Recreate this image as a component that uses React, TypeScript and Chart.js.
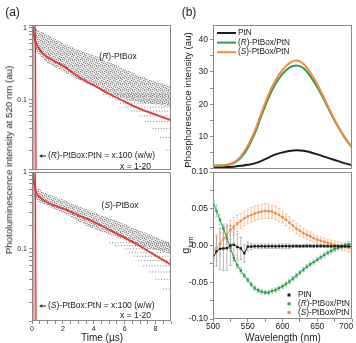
import React, { useEffect, useRef } from 'react';
import { Chart, registerables } from 'chart.js';

Chart.register(...registerables);

const FONT = '"Liberation Sans", Arial, Helvetica, sans-serif';
const INK = '#222';
const AXIS = '#8a8a8a';

// ---------- (a) photoluminescence decay at 520 nm ----------
const decayTime = [0.05, 0.1, 0.2, 0.3, 0.5, 0.75, 1, 1.5, 2, 3, 4, 5, 6, 7, 8, 9];
const fitR = [1.0, 0.85, 0.68, 0.59, 0.5, 0.43, 0.395, 0.34, 0.3, 0.21, 0.16, 0.121, 0.095, 0.075, 0.0625, 0.052];
const fitS = [1.0, 0.8, 0.6, 0.53, 0.47, 0.43, 0.4, 0.365, 0.335, 0.273, 0.225, 0.177, 0.14, 0.108, 0.082, 0.062];

// excitation pulse (instrument response)
const irfTime = [0.0, 0.04, 0.08, 0.18, 0.22, 0.27];
const irfValue = [0.005, 0.9, 1.2, 1.2, 0.9, 0.005];

// spread of the x = 1-20 decay traces
const cloudTimeR = [0.05, 0.3, 1.0, 2.0, 3.0, 4.2, 5.2, 6.3, 7.4, 8.4, 9.0];
const cloudUpperR = [1.05, 0.97, 0.8, 0.62, 0.5, 0.4, 0.32, 0.25, 0.2, 0.17, 0.15];
const cloudLowerR = [0.9, 0.47, 0.33, 0.25, 0.19, 0.15, 0.12, 0.1, 0.09, 0.085, 0.08];
const cloudTimeS = [0.1, 0.3, 1.0, 2.24, 3.3, 4.39, 5.5, 6.5, 7.6, 8.7, 9.0];
const cloudUpperS = [0.68, 0.64, 0.52, 0.42, 0.34, 0.28, 0.23, 0.19, 0.155, 0.125, 0.12];
const cloudLowerS = [0.5, 0.43, 0.36, 0.28, 0.21, 0.17, 0.14, 0.12, 0.1, 0.09, 0.085];

// photon-count levels seen at long delay
const levelsR = [0.12, 0.11, 0.1, 0.09, 0.08, 0.07, 0.06, 0.05, 0.04, 0.03, 0.02];
const levelStartR = [4.6, 5.0, 5.4, 5.7, 6.0, 6.4, 6.9, 7.3, 7.8, 8.3, 8.7];
const levelsS = [0.12, 0.11, 0.1, 0.09, 0.08, 0.07, 0.06, 0.05, 0.04, 0.03];
const levelStartS = [5.0, 5.4, 6.0, 6.3, 6.6, 6.9, 7.2, 7.6, 8.0, 8.5];

// ---------- (b) phosphorescence spectra ----------
const specNm = [500, 510, 520, 530, 540, 550, 560, 570, 580, 590, 600, 610, 620, 630, 640, 650, 660, 670, 680, 690, 700];
const specPtN = [0.45, 0.5, 0.55, 0.7, 0.95, 1.25, 1.7, 2.5, 3.5, 4.5, 5.1, 5.55, 5.75, 5.6, 5.15, 4.5, 3.8, 3.1, 2.4, 1.7, 1.15];
const specR = [1.0, 1.05, 1.2, 1.8, 3.4, 6.5, 10.9, 16.6, 22.0, 26.3, 29.4, 31.3, 32.0, 31.2, 28.7, 25.3, 21.3, 17.0, 13.0, 9.5, 6.6];
const specS = [1.0, 1.05, 1.3, 2.0, 3.9, 7.2, 11.7, 17.5, 23.0, 27.4, 30.6, 32.7, 33.5, 32.5, 29.8, 26.2, 21.9, 17.3, 13.2, 9.6, 6.8];

// ---------- (b) g_lum ----------
const gNm = [500, 505, 510, 515, 520, 525, 530, 535, 540, 545, 550, 555, 560, 565, 570, 575, 580, 585, 590, 595, 600,
  605, 610, 615, 620, 625, 630, 635, 640, 645, 650, 655, 660, 665, 670, 675, 680, 685, 690, 695, 700];
const gPtN = [-0.017, -0.008, -0.0045, -0.004, -0.0035, 0.0, 0.001, -0.002, -0.004, -0.0105, -0.0015, -0.0015, -0.001, -0.0012, -0.001, -0.0012, -0.001, -0.001, -0.0012, -0.001, -0.001,
  -0.0008, -0.001, -0.0009, -0.0008, -0.001, -0.0008, -0.0007, -0.0008, -0.0009, -0.0008, -0.0007, -0.0008, -0.0009, -0.001, -0.0009, -0.001, -0.0011, -0.0012, -0.0012, -0.0013];
const gPtNErr = [0.012, 0.02, 0.028, 0.03, 0.03, 0.027, 0.022, 0.018, 0.015, 0.012, 0.006, 0.004, 0.003, 0.003, 0.003, 0.003, 0.003, 0.003, 0.003, 0.003, 0.003,
  0.003, 0.003, 0.002, 0.002, 0.002, 0.002, 0.002, 0.002, 0.002, 0.002, 0.002, 0.002, 0.002, 0.002, 0.002, 0.002, 0.002, 0.002, 0.002, 0.002];
const gR = [0.06, 0.047, 0.035, 0.023, 0.01, -0.003, -0.017, -0.027, -0.034, -0.041, -0.047, -0.053, -0.058, -0.061, -0.063, -0.064, -0.064, -0.062, -0.0605, -0.058, -0.0555,
  -0.0525, -0.049, -0.045, -0.041, -0.037, -0.033, -0.029, -0.0255, -0.0225, -0.0195, -0.016, -0.013, -0.01, -0.0075, -0.005, -0.003, -0.0015, 0.0005, 0.0015, 0.0025];
const gRErr = [0.01, 0.008, 0.007, 0.006, 0.005, 0.005, 0.004, 0.004, 0.004, 0.003, 0.003, 0.003, 0.003, 0.003, 0.003, 0.003, 0.003, 0.003, 0.003, 0.003, 0.003,
  0.003, 0.003, 0.003, 0.003, 0.003, 0.003, 0.003, 0.003, 0.003, 0.003, 0.003, 0.003, 0.003, 0.003, 0.003, 0.003, 0.003, 0.003, 0.004, 0.004];
const gS = [-0.008, -0.003, 0.002, 0.009, 0.015, 0.021, 0.026, 0.03, 0.0335, 0.037, 0.0395, 0.0415, 0.0435, 0.045, 0.0462, 0.047, 0.0468, 0.046, 0.044, 0.0415, 0.0385,
  0.035, 0.031, 0.027, 0.023, 0.02, 0.017, 0.0145, 0.0125, 0.01, 0.008, 0.0065, 0.005, 0.0035, 0.0023, 0.001, 0.0, -0.0012, -0.002, -0.003, -0.004];
const gSErr = [0.02, 0.018, 0.016, 0.015, 0.014, 0.013, 0.012, 0.011, 0.01, 0.01, 0.01, 0.01, 0.01, 0.01, 0.01, 0.01, 0.01, 0.009, 0.009, 0.009, 0.008,
  0.008, 0.008, 0.007, 0.007, 0.007, 0.006, 0.006, 0.006, 0.005, 0.005, 0.005, 0.005, 0.005, 0.005, 0.005, 0.005, 0.005, 0.005, 0.006, 0.006];

const wavelengthLabels = [500, 550, 600, 650, 700];

const GREEN = '#2f9a4f';
const ORANGE = '#f28a3f';
const BLACK = '#1c1c1c';
const RED = '#e23a36';

type Part = [string, boolean];

function drawRich(ctx: CanvasRenderingContext2D, x: number, y: number, parts: Part[], size: number, align: 'left' | 'center' | 'right') {
  const fontOf = (it: boolean) => `${it ? 'italic ' : ''}${size}px ${FONT}`;
  let total = 0;
  for (const [t, it] of parts) { ctx.font = fontOf(it); total += ctx.measureText(t).width; }
  let cx = align === 'center' ? x - total / 2 : align === 'right' ? x - total : x;
  ctx.textAlign = 'left';
  ctx.textBaseline = 'middle';
  for (const [t, it] of parts) {
    ctx.font = fontOf(it);
    ctx.fillText(t, cx, y);
    cx += ctx.measureText(t).width;
  }
}

function drawArrow(ctx: CanvasRenderingContext2D, x1: number, x2: number, y: number) {
  ctx.strokeStyle = INK;
  ctx.fillStyle = INK;
  ctx.lineWidth = 1;
  ctx.beginPath();
  ctx.moveTo(x1 + 2, y);
  ctx.lineTo(x2, y);
  ctx.stroke();
  ctx.beginPath();
  ctx.moveTo(x1, y);
  ctx.lineTo(x1 + 3.2, y - 1.8);
  ctx.lineTo(x1 + 3.2, y + 1.8);
  ctx.closePath();
  ctx.fill();
}

const framePlugin = {
  id: 'frame',
  afterDatasetsDraw(chart: any) {
    const { ctx, chartArea: a } = chart;
    ctx.save();
    ctx.strokeStyle = AXIS;
    ctx.lineWidth = 1;
    const l = Math.round(a.left) + 0.5, t = Math.round(a.top) + 0.5;
    const r = Math.round(a.right) - 0.5, b = Math.round(a.bottom) - 0.5;
    ctx.strokeRect(l, t, r - l, b - t);
    ctx.restore();
  },
};

// speckled fill used for the band of overlapping decay traces
function speckle(ctx: CanvasRenderingContext2D) {
  const tile = document.createElement('canvas');
  tile.width = 6;
  tile.height = 6;
  const p = tile.getContext('2d')!;
  p.fillStyle = 'rgba(210,210,210,0.45)';
  p.fillRect(0, 0, 6, 6);
  p.fillStyle = 'rgba(120,120,120,0.8)';
  [[0, 0], [4, 0], [2, 1], [5, 2], [1, 3], [3, 3], [0, 5], [4, 4], [2, 5]].forEach(([x, y]) => p.fillRect(x, y, 1, 1));
  p.fillStyle = 'rgba(160,160,160,0.7)';
  [[1, 1], [3, 5], [5, 4], [0, 2]].forEach(([x, y]) => p.fillRect(x, y, 1, 1));
  return ctx.createPattern(tile, 'repeat');
}

const pts = (xs: number[], ys: number[]) => xs.map((x, i) => ({ x, y: ys[i] }));

const near = (a: number, b: number) => Math.abs(a - b) < 1e-9;

type DecayOpts = {
  fit: number[];
  cloudT: number[];
  cloudU: number[];
  cloudL: number[];
  levels: number[];
  levelStart: number[];
  yMin: number;
  yMax: number;
  padTop: number;
  xAxisH: number;
  showX: boolean;
  notes: (ctx: CanvasRenderingContext2D, a: any) => void;
};

function decayConfig(ctx: CanvasRenderingContext2D, d: DecayOpts): any {
  const rows = d.levels.map((lv, i) => ({
    data: [{ x: d.levelStart[i], y: lv }, { x: 9, y: lv }],
    borderColor: 'rgba(100,100,100,0.8)',
    borderWidth: 1,
    borderDash: [1, 1.8],
    pointRadius: 0,
    fill: false,
    order: 2,
  }));
  return {
    type: 'line',
    data: {
      datasets: [
        { data: pts(decayTime, d.fit), borderColor: RED, borderWidth: 1.9, pointRadius: 0, fill: false, cubicInterpolationMode: 'monotone', order: 0 },
        { data: pts(irfTime, irfValue), borderColor: '#e0302c', borderWidth: 1.2, backgroundColor: 'rgba(236,110,105,0.5)', fill: 'start', pointRadius: 0, order: 1 },
        { data: pts(d.cloudT, d.cloudU), borderColor: 'rgba(0,0,0,0)', borderWidth: 0, pointRadius: 0, backgroundColor: speckle(ctx), fill: '+1', tension: 0.3, order: 3 },
        { data: pts(d.cloudT, d.cloudL), borderColor: 'rgba(0,0,0,0)', borderWidth: 0, pointRadius: 0, fill: false, tension: 0.3, order: 3 },
        ...rows,
      ],
    },
    options: {
      responsive: false,
      animation: false,
      devicePixelRatio: 1,
      layout: { padding: { top: d.padTop, right: 7, left: 0, bottom: 0 } },
      plugins: { legend: { display: false }, tooltip: { enabled: false } },
      scales: {
        x: {
          type: 'linear', min: 0, max: 9,
          afterFit: (s: any) => { s.height = d.xAxisH; },
          ticks: {
            display: d.showX, stepSize: 0.5, includeBounds: false, autoSkip: false, maxRotation: 0,
            font: { family: FONT, size: 7 }, color: INK, padding: 1,
            callback: (v: number) => (Math.abs(v - Math.round(v)) < 1e-6 && Math.round(v) % 2 === 0 ? String(Math.round(v)) : ''),
          },
          grid: { drawOnChartArea: false, drawTicks: d.showX, tickLength: 3, color: AXIS },
          border: { display: false },
        },
        y: {
          type: 'logarithmic', min: d.yMin, max: d.yMax,
          afterFit: (s: any) => { s.width = 32; },
          afterBuildTicks: (s: any) => {
            s.ticks = s.ticks.filter((t: any) => {
              const m = t.value / Math.pow(10, Math.floor(Math.log10(t.value) + 1e-9));
              return Math.abs(m - 1.5) > 1e-6;
            });
          },
          ticks: {
            autoSkip: false, font: { family: FONT, size: 7 }, color: INK, padding: 2,
            callback: (v: number) => (near(v, 1) ? '1' : near(v, 0.1) ? '0.1' : ''),
          },
          grid: { drawOnChartArea: false, tickLength: 3, color: AXIS },
          border: { display: false },
        },
      },
    },
    plugins: [
      framePlugin,
      {
        id: 'notes',
        afterDatasetsDraw(chart: any) {
          const c = chart.ctx;
          c.save();
          c.fillStyle = INK;
          d.notes(c, chart.chartArea);
          c.restore();
        },
      },
    ],
  };
}

const buildA1 = (ctx: CanvasRenderingContext2D) =>
  decayConfig(ctx, {
    fit: fitR, cloudT: cloudTimeR, cloudU: cloudUpperR, cloudL: cloudLowerR,
    levels: levelsR, levelStart: levelStartR, yMin: 0.0107, yMax: 1.1, padTop: 25, xAxisH: 4, showX: false,
    notes: (c, a) => {
      drawRich(c, a.left + 86, a.top + 32, [['(', false], ['R', true], [')-PtBox', false]], 8.5, 'center');
      drawArrow(c, a.left + 7, a.left + 14, a.top + 131);
      drawRich(c, a.left + 16, a.top + 131, [['(', false], ['R', true], [')-PtBox:PtN = x:100 (w/w)', false]], 8.5, 'left');
      drawRich(c, a.left + 119, a.top + 142, [['x = 1-20', false]], 8.5, 'right');
    },
  });

const buildA2 = (ctx: CanvasRenderingContext2D) =>
  decayConfig(ctx, {
    fit: fitS, cloudT: cloudTimeS, cloudU: cloudUpperS, cloudL: cloudLowerS,
    levels: levelsS, levelStart: levelStartS, yMin: 0.0115, yMax: 1.0, padTop: 12, xAxisH: 22, showX: true,
    notes: (c, a) => {
      drawRich(c, a.left + 88, a.top + 34, [['(', false], ['S', true], [')-PtBox', false]], 8.5, 'center');
      drawArrow(c, a.left + 7, a.left + 14, a.top + 134);
      drawRich(c, a.left + 16, a.top + 134, [['(', false], ['S', true], [')-PtBox:PtN = x:100 (w/w)', false]], 8.5, 'left');
      drawRich(c, a.left + 119, a.top + 144, [['x = 1-20', false]], 8.5, 'right');
    },
  });

const buildB1 = (_ctx: CanvasRenderingContext2D): any => {
  const line = (ys: number[], color: string, order: number) => ({
    data: pts(specNm, ys), borderColor: color, borderWidth: 2, pointRadius: 0, fill: false, cubicInterpolationMode: 'monotone', order,
  });
  const legend: [string, Part[]][] = [
    [BLACK, [['PtN', false]]],
    [GREEN, [['(', false], ['R', true], [')-PtBox/PtN', false]]],
    [ORANGE, [['(', false], ['S', true], [')-PtBox/PtN', false]]],
  ];
  return {
    type: 'line',
    data: { datasets: [line(specS, ORANGE, 0), line(specR, GREEN, 1), line(specPtN, BLACK, 2)] },
    options: {
      responsive: false, animation: false, devicePixelRatio: 1,
      layout: { padding: { top: 25, right: 4, left: 0, bottom: 0 } },
      plugins: { legend: { display: false }, tooltip: { enabled: false } },
      scales: {
        x: {
          type: 'linear', min: 500, max: 700,
          afterFit: (s: any) => { s.height = 4; },
          ticks: { display: false, stepSize: 25, includeBounds: false },
          grid: { drawOnChartArea: false, drawTicks: false },
          border: { display: false },
        },
        y: {
          type: 'linear', min: 0, max: 44.5,
          afterFit: (s: any) => { s.width = 35; },
          ticks: {
            stepSize: 5, includeBounds: false, autoSkip: false, font: { family: FONT, size: 8.5 }, color: INK, padding: 2,
            callback: (v: number) => (v > 0 && Math.abs(v % 10) < 1e-6 ? String(v) : ''),
          },
          grid: { drawOnChartArea: false, tickLength: 3, color: AXIS },
          border: { display: false },
        },
      },
    },
    plugins: [
      framePlugin,
      {
        id: 'specLegend',
        afterDatasetsDraw(chart: any) {
          const c = chart.ctx;
          const a = chart.chartArea;
          c.save();
          legend.forEach(([color, parts], i) => {
            const y = a.top + 8 + i * 9.6;
            c.strokeStyle = color;
            c.lineWidth = 2;
            c.beginPath();
            c.moveTo(a.left + 4, y);
            c.lineTo(a.left + 23, y);
            c.stroke();
            c.fillStyle = INK;
            drawRich(c, a.left + 25, y, parts, 8.2, 'left');
          });
          c.restore();
        },
      },
    ],
  };
};

const buildB2 = (_ctx: CanvasRenderingContext2D): any => {
  const series = (ys: number[], color: string, order: number) => ({
    data: pts(gNm, ys), borderColor: color, backgroundColor: color, borderWidth: 1,
    pointStyle: 'rect', pointRadius: 1.7, pointBorderWidth: 0, fill: false, order,
  });
  const bars: [number[], number[], string][] = [
    [gS, gSErr, 'rgba(247,170,120,0.85)'],
    [gR, gRErr, 'rgba(125,198,145,0.85)'],
    [gPtN, gPtNErr, 'rgba(150,150,150,0.85)'],
  ];
  const legend: [string, Part[]][] = [
    [BLACK, [['PtN', false]]],
    [GREEN, [['(', false], ['R', true], [')-PtBox/PtN', false]]],
    [ORANGE, [['(', false], ['S', true], [')-PtBox/PtN', false]]],
  ];
  return {
    type: 'line',
    data: { datasets: [series(gPtN, BLACK, 0), series(gR, GREEN, 1), series(gS, ORANGE, 2)] },
    options: {
      responsive: false, animation: false, devicePixelRatio: 1,
      layout: { padding: { top: 12, right: 4, left: 0, bottom: 0 } },
      plugins: { legend: { display: false }, tooltip: { enabled: false } },
      scales: {
        x: {
          type: 'linear', min: 500, max: 700,
          afterFit: (s: any) => { s.height = 24; },
          ticks: { display: false, stepSize: 25, includeBounds: false },
          grid: { drawOnChartArea: false, tickLength: 3, color: AXIS },
          border: { display: false },
        },
        y: {
          type: 'linear', min: -0.1, max: 0.1,
          afterFit: (s: any) => { s.width = 35; },
          ticks: {
            stepSize: 0.025, includeBounds: false, autoSkip: false, font: { family: FONT, size: 8.5 }, color: INK, padding: 2,
            callback: (v: number) => {
              const k = Math.round(v / 0.05);
              return Math.abs(v - k * 0.05) < 1e-9 ? (k * 0.05).toFixed(2) : '';
            },
          },
          grid: { drawOnChartArea: false, tickLength: 3, color: AXIS },
          border: { display: false },
        },
      },
    },
    plugins: [
      {
        id: 'errorBars',
        beforeDatasetsDraw(chart: any) {
          const { ctx: c, chartArea: a, scales } = chart;
          const xs = scales.x, ys = scales.y;
          c.save();
          c.beginPath();
          c.rect(a.left, a.top, a.right - a.left, a.bottom - a.top);
          c.clip();
          c.lineWidth = 0.8;
          bars.forEach(([vals, errs, color]) => {
            c.strokeStyle = color;
            vals.forEach((v, i) => {
              const x = xs.getPixelForValue(gNm[i]);
              const y1 = ys.getPixelForValue(v + errs[i]);
              const y2 = ys.getPixelForValue(v - errs[i]);
              c.beginPath();
              c.moveTo(x, y1); c.lineTo(x, y2);
              c.moveTo(x - 1.4, y1); c.lineTo(x + 1.4, y1);
              c.moveTo(x - 1.4, y2); c.lineTo(x + 1.4, y2);
              c.stroke();
            });
          });
          c.restore();
        },
      },
      framePlugin,
      {
        id: 'glumDecor',
        afterDatasetsDraw(chart: any) {
          const { ctx: c, chartArea: a, scales } = chart;
          c.save();
          // wavelength tick labels, kept inside the figure edge
          c.fillStyle = INK;
          c.font = `8.5px ${FONT}`;
          c.textAlign = 'center';
          c.textBaseline = 'middle';
          wavelengthLabels.forEach((v) => {
            const t = String(v);
            const w = c.measureText(t).width;
            const x = Math.min(scales.x.getPixelForValue(v), chart.width - 2.7 - w / 2);
            c.fillText(t, x, a.bottom + 7.5);
          });
          // legend
          legend.forEach(([color, parts], i) => {
            const y = a.top + 123 + i * 8.8;
            c.fillStyle = color;
            c.fillRect(a.left + 74.5, y - 1.5, 3, 3);
            c.fillStyle = INK;
            drawRich(c, a.left + 85, y, parts, 8.2, 'left');
          });
          c.restore();
        },
      },
    ],
  };
};

function ChartBox({ left, top, width, height, build }: { left: number; top: number; width: number; height: number; build: (ctx: CanvasRenderingContext2D) => any }) {
  const ref = useRef<HTMLCanvasElement>(null);
  useEffect(() => {
    const canvas = ref.current!;
    const chart = new Chart(canvas, build(canvas.getContext('2d')!));
    return () => chart.destroy();
  }, [build]);
  return (
    <canvas
      ref={ref}
      width={width}
      height={height}
      style={{ position: 'absolute', left, top, width, height, display: 'block' }}
    />
  );
}

function Text({ x, y, size, rotate, children }: { x: number; y: number; size: number; rotate?: boolean; children: React.ReactNode }) {
  return (
    <div
      style={{
        position: 'absolute', left: x, top: y, fontSize: size, lineHeight: 1, whiteSpace: 'nowrap',
        transform: `translate(-50%, -50%)${rotate ? ' rotate(-90deg)' : ''}`,
      }}
    >
      {children}
    </div>
  );
}

export default function App() {
  return (
    <div
      style={{
        position: 'fixed', left: 0, top: 0, width: 356, height: 343, overflow: 'hidden',
        background: '#fff', fontFamily: FONT, color: INK,
      }}
    >
      <ChartBox left={0} top={0} width={178} height={176} build={buildA1} />
      <ChartBox left={0} top={160} width={178} height={183} build={buildA2} />
      <ChartBox left={178} top={0} width={178} height={176} build={buildB1} />
      <ChartBox left={178} top={160} width={178} height={183} build={buildB2} />

      <Text x={12.5} y={12} size={12}>(a)</Text>
      <Text x={189} y={12} size={12}>(b)</Text>
      <Text x={9} y={160} size={9.7} rotate>Photoluminescence intensity at 520 nm (au)</Text>
      <Text x={102} y={338} size={10}>Time (µs)</Text>
      <Text x={188} y={100} size={9.7} rotate>Phosphorescence intensity (au)</Text>
      <Text x={187} y={245} size={11} rotate>
        g<sub style={{ fontSize: 7 }}>lum</sub>
      </Text>
      <Text x={283} y={338} size={10}>Wavelength (nm)</Text>
    </div>
  );
}
